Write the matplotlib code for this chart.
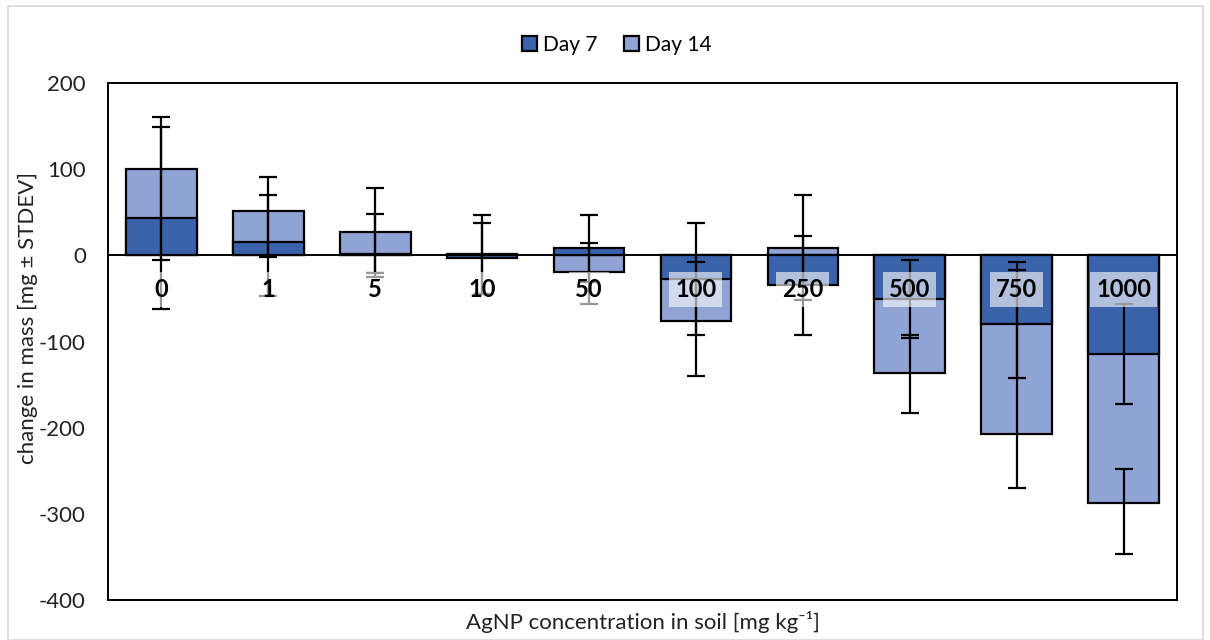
import matplotlib.pyplot as plt
import numpy as np
from matplotlib.patches import Patch, Rectangle

plt.rcParams['font.family'] = ['Lato', 'DejaVu Sans']
plt.rcParams['axes.unicode_minus'] = False

# AgNP concentration levels (mg/kg)
concentrations = ['0', '1', '5', '10', '50', '100', '250', '500', '750', '1000']

# mean change in mass (mg)
day7 = [43, 15, 1, -3, 8, -28, -34, -51, -80, -114]
day14 = [100, 51, 27, 2, -19, -76, 9, -137, -207, -288]

# error bar extents (minus, plus)
day7_err_minus = [105, 62, 21, 42, 39, 64, 59, 45, 62, 58]
day7_err_plus = [106, 55, 47, 40, 39, 66, 57, 46, 63, 58]
day14_err_minus = [105, 53, 52, 47, 37, 64, 61, 46, 63, 59]
day14_err_plus = [60, 40, 51, 45, 33, 68, 61, 44, 199, 40]

DARK = '#3B63AC'
LIGHT = '#8FA4D4'

W, H = 1210, 640
fig = plt.figure(figsize=(W / 100, H / 100), dpi=100)
fig.patches.append(Rectangle((8 / W, 0), 1195 / W, 634 / H, transform=fig.transFigure,
                             fill=False, edgecolor='#d9d9d9', linewidth=1.2))

ax = fig.add_axes([108 / W, 40 / H, 1069 / W, 517 / H])
x = np.arange(len(concentrations))
width = 0.66

# Day 14 behind, Day 7 in front (100 % overlap)
ax.bar(x, day14, width, color=LIGHT, edgecolor='black', linewidth=1.6, zorder=2)
ax.bar(x, day7, width, color=DARK, edgecolor='black', linewidth=1.6, zorder=3)

ax.errorbar(x, day14, yerr=[day14_err_minus, day14_err_plus], fmt='none',
            ecolor='black', elinewidth=1.6, capsize=6.5, capthick=1.6, zorder=4)
ax.errorbar(x, day7, yerr=[day7_err_minus, day7_err_plus], fmt='none',
            ecolor='black', elinewidth=1.6, capsize=6.5, capthick=1.6, zorder=4)

ax.axhline(0, color='black', linewidth=1.4, zorder=3.5)

# category labels sit just below the zero line
for xi, lab in zip(x, concentrations):
    ax.text(xi, -40, lab, ha='center', va='center', fontsize=17, fontweight='bold',
            zorder=6, bbox=dict(boxstyle='square,pad=0.25', facecolor='white',
                                edgecolor='none', alpha=0.6))

ax.set_xlim(-0.5, len(concentrations) - 0.5)
ax.set_ylim(-400, 200)
ax.set_yticks(np.arange(-400, 201, 100))
ax.tick_params(axis='y', length=0, labelsize=16, pad=16, labelcolor='#222222')
ax.set_xticks([])
for sp in ax.spines.values():
    sp.set_linewidth(1.4)

fig.text(28 / W, 1 - 318 / H, 'change in mass [mg ± STDEV]', rotation=90,
         ha='center', va='center', fontsize=16, color='#222222')
fig.text(643 / W, 1 - 622 / H, 'AgNP concentration in soil [mg kg\u207b\u00b9]',
         ha='center', va='center', fontsize=16, color='#222222')

handles = [Patch(facecolor=DARK, edgecolor='black', linewidth=1.6, label='Day 7'),
           Patch(facecolor=LIGHT, edgecolor='black', linewidth=1.6, label='Day 14')]
fig.legend(handles=handles, loc='center', bbox_to_anchor=(617 / W, 1 - 45 / H), ncol=2,
           frameon=False, fontsize=15, handlelength=0.7, handleheight=0.7,
           handletextpad=0.3, columnspacing=1.3)

fig.savefig('out.png', dpi=100)
